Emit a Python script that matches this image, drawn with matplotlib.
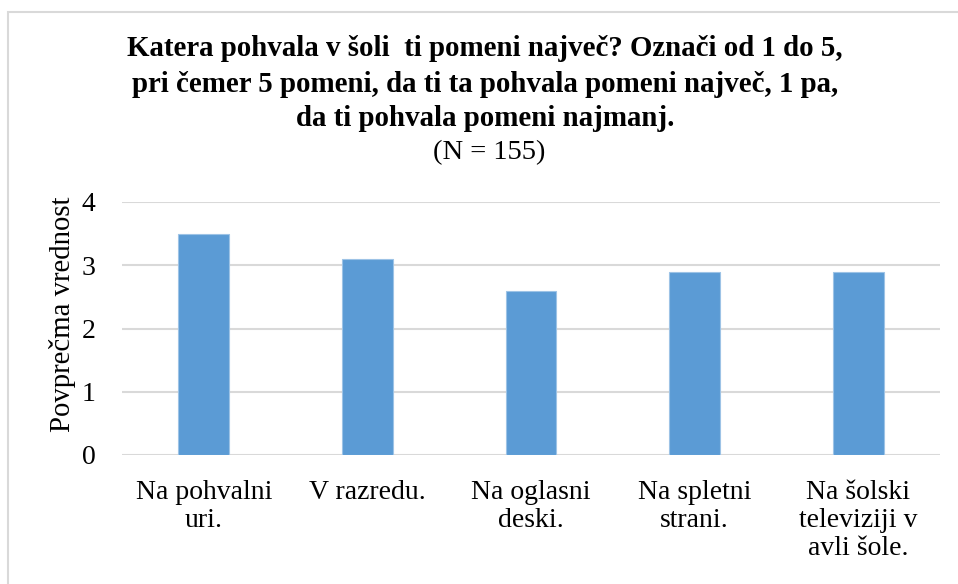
import matplotlib
matplotlib.use("Agg")
import matplotlib.pyplot as plt
from matplotlib.patches import Rectangle

categories = ["Na pohvalni\nuri.", "V razredu.", "Na oglasni\ndeski.", "Na spletni\nstrani.",
              "Na šolski\ntelevizij" + "i v\navli šole."]
values = [3.5, 3.1, 2.6, 2.9, 2.9]
yticks = [0, 1, 2, 3, 4]

title_lines = ["Katera pohvala v šoli  ti pomeni največ? Označi od 1 do 5,",
               "pri čemer 5 pomeni, da ti ta pohvala pomeni največ, 1 pa,",
               "da ti pohvala pomeni najmanj."]
subtitle = "(N = 155)"
ylabel = "Povprečma vrednost"

plt.rcParams['font.family'] = ['Liberation Serif', 'DejaVu Serif']

W, H = 958, 584
fig = plt.figure(figsize=(W/100, H/100), dpi=100)
fig.patch.set_facecolor('white')

# outer chart frame
fig.patches.append(Rectangle((8/W, -0.1), 1.2, 1 - 12/H + 0.1, transform=fig.transFigure,
                             fill=False, edgecolor='#D9D9D9', linewidth=1.5))

ax = fig.add_axes([122/W, 1 - 455/H, 818/W, 253/H])
x = range(len(categories))
ax.bar(x, values, width=0.31, color='#5B9BD5', edgecolor='#9DC3E6', linewidth=0.8, zorder=3)
ax.set_xlim(-0.5, len(categories) - 0.5)
ax.set_ylim(0, 4)
ax.set_yticks(yticks)
ax.set_yticklabels([str(t) for t in yticks])
ax.set_xticks(list(x))
ax.set_xticklabels(categories, multialignment='center', linespacing=1.17)
ax.tick_params(axis='y', length=0, pad=19, labelsize=20)
ax.tick_params(axis='x', length=0, pad=18, labelsize=20)
ax.grid(axis='y', color='#D9D9D9', linewidth=1.5, zorder=0)
for s in ax.spines.values():
    s.set_visible(False)
ax.set_ylabel(ylabel, fontsize=20.7)
ax.yaxis.set_label_coords(-46/818, 0.557)

ys = [48, 84, 119]
for line, y in zip(title_lines, ys):
    fig.text(485/W, 1 - y/H, line, ha='center', va='center', fontsize=20.8, fontweight='bold')
fig.text(489/W, 1 - 153/H, subtitle, ha='center', va='center', fontsize=20.5)

fig.savefig("out.png", dpi=100)
